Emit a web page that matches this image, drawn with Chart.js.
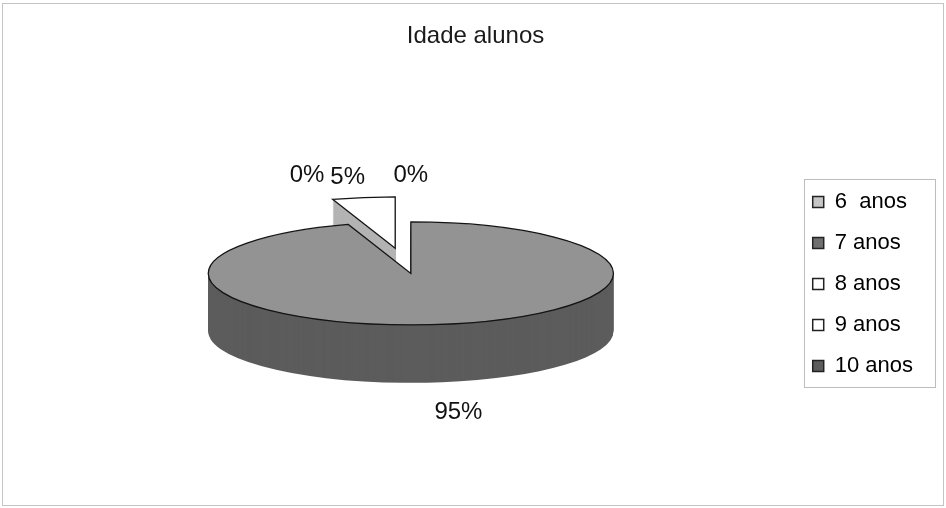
<!DOCTYPE html>
<html>
<head>
<meta charset="utf-8">
<script src="https://cdn.jsdelivr.net/npm/chart.js@4.4.0/dist/chart.umd.min.js"></script>
<style>
html,body{margin:0;padding:0;background:#fff;}
#c{display:block;}
</style>
</head>
<body>
<canvas id="c" width="946" height="508"></canvas>
<script>
// ---- data ----
const chartTitle = 'Idade alunos';
const categories = ['6  anos', '7 anos', '8 anos', '9 anos', '10 anos'];
const percentValues = [0, 95, 5, 0, 0];

// ---- style ----
const topColors = ['#c9c9c9', '#939393', '#ffffff', '#ffffff', '#6c6c6c'];
const sideColors = ['#a5a5a5', '#5c5c5c', '#b3b3b3', '#d0d0d0', '#4c4c4c'];
const legendColors = ['#c6c6c6', '#6f6f6f', '#ffffff', '#ffffff', '#5c5c5c'];
const explodeAmounts = [100, 0, 100, 100, 100];
const TILT = 0.254, DEPTH = 58, SHIFT_Y = -10.5, LABEL_R = 1.5, LABEL_DY = 5;
const FONT = '"Liberation Sans", Arial, Helvetica, sans-serif';

function proxyArc(arc, opts) {
  const p = Object.create(arc);
  p.options = Object.assign({}, arc.options, opts);
  return p;
}
function planeTransform(ctx, arc, dy, i) {
  ctx.translate(0, SHIFT_Y + dy);
  ctx.translate(arc.x, arc.y);
  ctx.scale(1, TILT);
  ctx.translate(-arc.x, -arc.y);
  const mid = (arc.startAngle + arc.endAngle) / 2;
  const e = explodeAmounts[i] || 0;
  ctx.translate(Math.cos(mid) * e, Math.sin(mid) * e);
}

const frame = {
  id: 'frame',
  beforeDraw(chart) {
    const ctx = chart.ctx;
    ctx.save();
    ctx.fillStyle = '#ffffff';
    ctx.fillRect(0, 0, chart.width, chart.height);
    ctx.strokeStyle = '#c4c4c4';
    ctx.lineWidth = 1;
    ctx.strokeRect(2.5, 3.5, chart.width - 5, chart.height - 6);
    ctx.restore();
  },
  afterDraw(chart) {
    const ctx = chart.ctx;
    // legend border
    const lg = chart.legend;
    const hb = lg.legendHitBoxes;
    if (hb && hb.length) {
      const left = hb[0].left - 9;
      const top = hb[0].top - 12;
      const last = hb[hb.length - 1];
      const bottom = last.top + last.height + 10;
      const right = lg.right + 12;
      ctx.save();
      ctx.strokeStyle = '#bdbdbd';
      ctx.lineWidth = 1;
      ctx.strokeRect(Math.round(left) + 0.5, Math.round(top) + 0.5, Math.round(right - left), Math.round(bottom - top));
      ctx.restore();
    }
    // data labels
    const arcs = chart.getDatasetMeta(0).data;
    const total = percentValues.reduce((a, b) => a + b, 0);
    ctx.save();
    ctx.font = '24px ' + FONT;
    ctx.fillStyle = '#111111';
    ctx.textBaseline = 'middle';
    ctx.textAlign = 'center';
    const labels = arcs.map((arc, i) => {
      const mid = (arc.startAngle + arc.endAngle) / 2;
      const r = arc.outerRadius * LABEL_R + (explodeAmounts[i] || 0);
      const x = arc.x + Math.cos(mid) * r;
      let y = arc.y + SHIFT_Y + LABEL_DY + Math.sin(mid) * r * TILT;
      if (Math.sin(mid) > 0.05) y += DEPTH;
      const text = Math.round(percentValues[i] / total * 100) + '%';
      const w = ctx.measureText(text).width;
      const fromTop = mid + Math.PI / 2;
      const side = fromTop > Math.PI ? 'end' : 'start';
      return {i, x, y, w, text, zero: percentValues[i] === 0, side};
    });
    const gap = 6;
    const placed = [];
    const overlaps = (a, b) => Math.abs(a.y - b.y) < 24 &&
      (a.x - a.w / 2) < (b.x + b.w / 2) + gap && (b.x - b.w / 2) < (a.x + a.w / 2) + gap;
    labels.filter(l => !l.zero).forEach(l => placed.push(l));
    labels.filter(l => l.zero).forEach(l => {
      let guard = 0, moved = true;
      while (moved && guard++ < 20) {
        moved = false;
        for (const p of placed) {
          if (p.zero && p.side === l.side) continue;
          if (overlaps(l, p)) {
            if (l.side === 'end') l.x = (p.x - p.w / 2) - gap - l.w / 2 - 0.01;
            else l.x = (p.x + p.w / 2) + gap + l.w / 2 + 0.01;
            moved = true;
          }
        }
      }
      placed.push(l);
    });
    const drawn = [];
    placed.forEach(l => {
      if (drawn.some(d => d.text === l.text && Math.abs(d.x - l.x) < 1 && Math.abs(d.y - l.y) < 1)) return;
      drawn.push(l);
      ctx.fillText(l.text, l.x, l.y);
    });
    ctx.restore();
  }
};

const pie3d = {
  id: 'pie3d',
  beforeDatasetsDraw(chart) {
    const ctx = chart.ctx;
    const arcs = chart.getDatasetMeta(0).data;
    const has = arc => (arc.endAngle - arc.startAngle) > 0;
    for (let d = DEPTH; d >= 1; d--) {
      arcs.forEach((arc, i) => {
        if (!has(arc)) return;
        ctx.save();
        planeTransform(ctx, arc, d, i);
        proxyArc(arc, {backgroundColor: sideColors[i], borderWidth: 0}).draw(ctx);
        ctx.restore();
      });
    }
    arcs.forEach((arc, i) => {
      if (!has(arc)) return;
      ctx.save();
      planeTransform(ctx, arc, 0, i);
      proxyArc(arc, {backgroundColor: topColors[i], borderWidth: 0}).draw(ctx);
      ctx.restore();
    });
    ctx.save();
    ctx.beginPath();
    arcs.forEach((arc, i) => {
      if (!has(arc)) return;
      ctx.save();
      planeTransform(ctx, arc, 0, i);
      ctx.moveTo(arc.x, arc.y);
      ctx.arc(arc.x, arc.y, arc.outerRadius, arc.startAngle, arc.endAngle);
      ctx.closePath();
      ctx.restore();
    });
    ctx.strokeStyle = '#141414';
    ctx.lineWidth = 1.3;
    ctx.lineJoin = 'miter';
    ctx.stroke();
    ctx.restore();
    return false;
  }
};

new Chart(document.getElementById('c'), {
  type: 'pie',
  data: {
    labels: categories,
    datasets: [{
      data: percentValues,
      backgroundColor: topColors,
      borderColor: '#000',
      borderWidth: 1
    }]
  },
  options: {
    responsive: false,
    animation: false,
    layout: {padding: {left: 28, right: 23, top: 0, bottom: 21}},
    plugins: {
      title: {
        display: true,
        text: chartTitle,
        color: '#1a1a1a',
        font: {family: FONT, size: 24, weight: 'normal'},
        padding: {top: 22, bottom: 30}
      },
      legend: {
        position: 'right',
        fullSize: false,
        labels: {
          boxWidth: 11,
          boxHeight: 11,
          padding: 19,
          color: '#111',
          font: {family: FONT, size: 22},
          generateLabels: () => categories.map((c, i) => ({
            text: c,
            fillStyle: legendColors[i],
            strokeStyle: '#222',
            lineWidth: 1.5,
            hidden: false,
            index: i,
            datasetIndex: 0
          }))
        }
      },
      tooltip: {enabled: false}
    }
  },
  plugins: [frame, pie3d]
});
</script>
</body>
</html>
